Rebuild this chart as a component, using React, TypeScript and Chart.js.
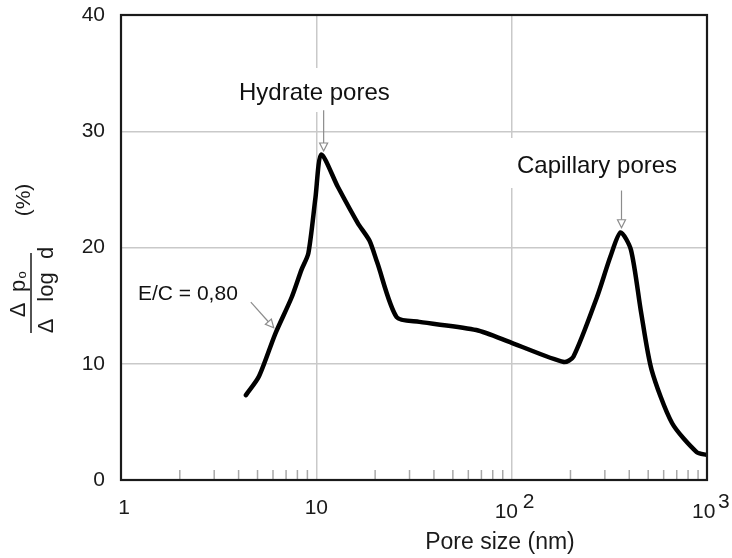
import React, { useEffect, useRef } from "react";
import { Chart, registerables } from "chart.js";

Chart.register(...registerables);

// Pore size (nm) and distribution Δp/Δlog d (%)
const poreSize = [4.36, 5.08, 6.17, 7.47, 8.4, 9.1, 9.9, 10.6, 12.9, 16.3, 18.7, 20.5, 25.8, 33.7, 65.9, 100, 185, 207, 273, 320, 361, 408, 460, 520, 662, 885, 1000];
const distribution = [7.3, 8.9, 12.6, 15.7, 18.1, 19.5, 24.3, 28.0, 25.2, 22.1, 20.6, 18.7, 14.0, 13.6, 12.9, 11.8, 10.15, 10.6, 15.7, 19.2, 21.3, 19.8, 14.4, 9.5, 4.9, 2.4, 2.15];

const xMajorTicks = [1, 10, 100, 1000];
const yTicks = [0, 10, 20, 30, 40];
const xTitle = "Pore size (nm)";
const hydrateLabel = "Hydrate pores";
const capillaryLabel = "Capillary pores";
const ratioLabel = "E/C = 0,80";

const FONT = '"Liberation Sans", Arial, Helvetica, sans-serif';
const f = (s: number) => `${s}px ${FONT}`;

function arrow(ctx: CanvasRenderingContext2D, x1: number, y1: number, x2: number, y2: number) {
  const ang = Math.atan2(y2 - y1, x2 - x1);
  const hl = 8, hw = 4;
  const bx = x2 - hl * Math.cos(ang), by = y2 - hl * Math.sin(ang);
  ctx.save();
  ctx.strokeStyle = "#8c8c8c";
  ctx.lineWidth = 1.2;
  ctx.beginPath();
  ctx.moveTo(x1, y1);
  ctx.lineTo(bx, by);
  ctx.stroke();
  ctx.beginPath();
  ctx.moveTo(x2, y2);
  ctx.lineTo(bx + hw * Math.sin(ang), by - hw * Math.cos(ang));
  ctx.lineTo(bx - hw * Math.sin(ang), by + hw * Math.cos(ang));
  ctx.closePath();
  ctx.fillStyle = "#fff";
  ctx.fill();
  ctx.stroke();
  ctx.restore();
}

const decorPlugin = {
  id: "decor",
  afterDraw(chart: any) {
    const ctx: CanvasRenderingContext2D = chart.ctx;
    const xs = chart.scales.x;
    const ys = chart.scales.y;
    const { left, right, top, bottom } = chart.chartArea;
    ctx.save();

    // minor ticks on bottom axis
    ctx.strokeStyle = "#a8a8a8";
    ctx.lineWidth = 1.5;
    for (let d = 1; d < 1000; d *= 10) {
      for (let k = 2; k <= 9; k++) {
        const px = xs.getPixelForValue(d * k);
        ctx.beginPath();
        ctx.moveTo(px, bottom);
        ctx.lineTo(px, bottom - 10);
        ctx.stroke();
      }
    }

    // frame
    ctx.strokeStyle = "#1a1a1a";
    ctx.lineWidth = 2.2;
    ctx.strokeRect(left, top, right - left, bottom - top);

    // x tick labels
    ctx.fillStyle = "#1a1a1a";
    ctx.font = f(21);
    ctx.textBaseline = "alphabetic";
    ctx.textAlign = "center";
    ctx.fillText("1", xs.getPixelForValue(1) + 3, 514);
    ctx.fillText("10", xs.getPixelForValue(10), 514);
    ctx.textAlign = "left";
    const p100 = xs.getPixelForValue(100);
    ctx.fillText("10", p100 - 17, 518);
    ctx.fillText("2", p100 + 11, 508);
    const p1000 = xs.getPixelForValue(1000);
    ctx.fillText("10", p1000 - 15, 518);
    ctx.fillText("3", p1000 + 11, 508);

    // x title
    ctx.textAlign = "center";
    ctx.font = f(23);
    ctx.fillText(xTitle, 500, 549);

    // y title (rotated fraction)
    const rot = (txt: string, sx: number, sy: number, size: number) => {
      ctx.save();
      ctx.translate(sx, sy);
      ctx.rotate(-Math.PI / 2);
      ctx.font = f(size);
      ctx.textAlign = "center";
      ctx.textBaseline = "alphabetic";
      ctx.fillText(txt, 0, 0);
      ctx.restore();
    };
    ctx.fillStyle = "#1a1a1a";
    rot("(%)", 30, 200, 21);
    rot("Δ", 25, 310, 22);
    rot("p", 25, 286, 22);
    rot("o", 26, 275, 13);
    ctx.strokeStyle = "#1a1a1a";
    ctx.lineWidth = 1.5;
    ctx.beginPath();
    ctx.moveTo(31, 253);
    ctx.lineTo(31, 333);
    ctx.stroke();
    rot("Δ", 53, 326, 22);
    rot("log", 53, 287, 22);
    rot("d", 53, 253, 22);

    // annotations
    ctx.font = f(24);
    ctx.textAlign = "left";
    ctx.textBaseline = "alphabetic";
    const hw = ctx.measureText(hydrateLabel).width;
    ctx.fillStyle = "#fff";
    ctx.fillRect(232, 68, hw + 16, 44);
    ctx.fillStyle = "#111";
    ctx.fillText(hydrateLabel, 239, 100);
    const cw = ctx.measureText(capillaryLabel).width;
    ctx.fillStyle = "#fff";
    ctx.fillRect(511, 138, cw + 12, 50);
    ctx.fillStyle = "#111";
    ctx.fillText(capillaryLabel, 517, 173);
    ctx.font = f(21);
    ctx.fillText(ratioLabel, 138, 300);

    const hx = xs.getPixelForValue(10.9);
    arrow(ctx, hx, ys.getPixelForValue(31.8), hx, ys.getPixelForValue(28.3));
    const cx = xs.getPixelForValue(365);
    arrow(ctx, cx, ys.getPixelForValue(24.9), cx, ys.getPixelForValue(21.7));
    arrow(ctx, xs.getPixelForValue(4.62), ys.getPixelForValue(15.3), xs.getPixelForValue(6.05), ys.getPixelForValue(13.1));

    ctx.restore();
  },
};

export default function App() {
  const ref = useRef<HTMLCanvasElement | null>(null);
  useEffect(() => {
    if (!ref.current) return;
    const chart = new Chart(ref.current, {
      type: "line",
      data: {
        datasets: [
          {
            data: poreSize.map((x, i) => ({ x, y: distribution[i] })),
            borderColor: "#000",
            borderWidth: 4.5,
            pointRadius: 0,
            tension: 0.25,
            fill: false,
            borderCapStyle: "round",
            borderJoinStyle: "round",
          },
        ],
      },
      options: {
        animation: false,
        responsive: false,
        events: [],
        layout: { padding: { top: 15, right: 25, left: 0, bottom: 0 } },
        plugins: { legend: { display: false }, tooltip: { enabled: false } },
        scales: {
          x: {
            type: "logarithmic",
            min: 1,
            max: 1000,
            afterBuildTicks: (s: any) => {
              s.ticks = xMajorTicks.map((v) => ({ value: v }));
            },
            afterFit: (s: any) => {
              s.height = 78;
              s.paddingLeft = 0;
              s.paddingRight = 0;
            },
            ticks: { display: false },
            border: { display: false },
            grid: {
              drawTicks: false,
              lineWidth: 1.5,
              color: (c: any) => (c.tick && (c.tick.value === 10 || c.tick.value === 100) ? "#c9c9c9" : "rgba(0,0,0,0)"),
            },
          },
          y: {
            type: "linear",
            min: 0,
            max: 40,
            afterBuildTicks: (s: any) => {
              s.ticks = yTicks.map((v) => ({ value: v }));
            },
            afterFit: (s: any) => {
              s.width = 121;
              s.paddingTop = 0;
              s.paddingBottom = 0;
            },
            ticks: {
              padding: 16,
              color: "#1a1a1a",
              font: { family: FONT, size: 21 },
            },
            border: { display: false },
            grid: {
              drawTicks: false,
              lineWidth: 1.5,
              color: (c: any) => (c.tick && c.tick.value > 0 && c.tick.value < 40 ? "#c9c9c9" : "rgba(0,0,0,0)"),
            },
          },
        },
      },
      plugins: [decorPlugin],
    } as any);
    return () => chart.destroy();
  }, []);
  return (
    <div style={{ position: "absolute", left: 0, top: 0, width: 732, height: 558, background: "#fff" }}>
      <canvas ref={ref} width={732} height={558} style={{ display: "block" }} />
    </div>
  );
}
